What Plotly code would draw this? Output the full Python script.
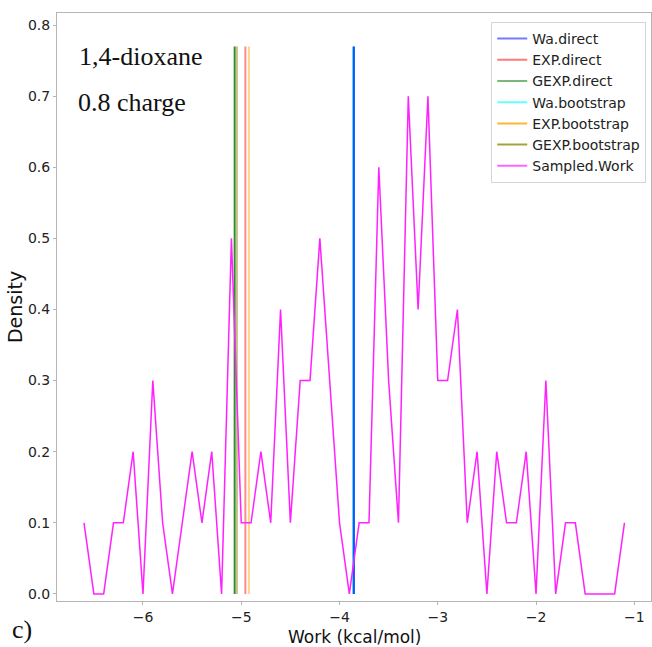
import plotly.graph_objects as go

# Sampled work histogram (density per 0.1 kcal/mol bin)
work_x = [-6.6, -6.5, -6.4, -6.3, -6.2, -6.1, -6.0, -5.9, -5.8, -5.7,
          -5.6, -5.5, -5.4, -5.3, -5.2, -5.1, -5.0, -4.9, -4.8, -4.7,
          -4.6, -4.5, -4.4, -4.3, -4.2, -4.1, -4.0, -3.9, -3.8, -3.7,
          -3.6, -3.5, -3.4, -3.3, -3.2, -3.1, -3.0, -2.9, -2.8, -2.7,
          -2.6, -2.5, -2.4, -2.3, -2.2, -2.1, -2.0, -1.9, -1.8, -1.7,
          -1.6, -1.5, -1.4, -1.3, -1.2, -1.1]
density = [0.1, 0.0, 0.0, 0.1, 0.1, 0.2, 0.0, 0.3, 0.1, 0.0,
           0.1, 0.2, 0.1, 0.2, 0.0, 0.5, 0.1, 0.1, 0.2, 0.1,
           0.4, 0.1, 0.3, 0.3, 0.5, 0.3, 0.1, 0.0, 0.1, 0.1,
           0.6, 0.3, 0.1, 0.7, 0.4, 0.7, 0.3, 0.3, 0.4, 0.1,
           0.2, 0.0, 0.2, 0.1, 0.1, 0.2, 0.0, 0.3, 0.0, 0.1,
           0.1, 0.0, 0.0, 0.0, 0.0, 0.1]

# Estimator results (vertical lines)
est_names = ["Wa.direct", "EXP.direct", "GEXP.direct",
             "Wa.bootstrap", "EXP.bootstrap", "GEXP.bootstrap"]
est_values = [-3.853, -4.958, -5.067, -3.862, -4.922, -5.044]
line_top = 0.77
line_colors = ["#1f4fff", "#ff8a8a", "#2e8f2e", "#3fe6ff", "#ffd48a", "#c8c088"]
legend_colors = ["#7878ff", "#ff7a7a", "#78b878", "#66ffff", "#ffb733", "#a3a33d"]
draw_order = [3, 0, 1, 4, 5, 2]

sampled_name = "Sampled.Work"
sampled_color = "#ff22ff"

x_title = "Work (kcal/mol)"
y_title = "Density"
x_ticks = [-6, -5, -4, -3, -2, -1]
y_ticks = [0.0, 0.1, 0.2, 0.3, 0.4, 0.5, 0.6, 0.7, 0.8]

TOP, BOTTOM = 13, 46
PLOT_BOTTOM = 647 - BOTTOM
PLOT_H = 647 - TOP - BOTTOM

def py(pix):
    """paper y coordinate for a pixel row"""
    return (PLOT_BOTTOM - pix) / PLOT_H

fig = go.Figure()

# vertical lines (no legend)
for i in draw_order:
    fig.add_trace(go.Scatter(
        x=[est_values[i], est_values[i]], y=[0, line_top],
        mode="lines", line=dict(color=line_colors[i], width=2),
        showlegend=False, hoverinfo="skip"))

fig.add_trace(go.Scatter(
    x=work_x, y=density, mode="lines",
    line=dict(color=sampled_color, width=1.5), showlegend=False))

# legend entries
for name, col in zip(est_names, legend_colors):
    fig.add_trace(go.Scatter(x=[None], y=[None], mode="lines", name=name,
                             line=dict(color=col, width=2)))
fig.add_trace(go.Scatter(x=[None], y=[None], mode="lines", name=sampled_name,
                         line=dict(color="#ff66ff", width=2)))

axis_common = dict(showline=True, mirror=True, linecolor="#b5b5b5", linewidth=1,
                   ticks="outside", ticklen=3, tickcolor="#b5b5b5",
                   showgrid=False, zeroline=False,
                   tickfont=dict(family="DejaVu Sans", size=14, color="#222"))

fig.update_layout(
    width=652, height=647,
    margin=dict(l=57, r=1, t=TOP, b=BOTTOM),
    paper_bgcolor="white", plot_bgcolor="white",
    xaxis=dict(range=[-6.875, -0.83], tickvals=x_ticks, **axis_common),
    yaxis=dict(range=[-0.010, 0.817], tickvals=y_ticks, tickformat=".1f",
               title=dict(text=y_title, standoff=0,
                          font=dict(family="DejaVu Sans", size=19, color="#111")),
               **axis_common),
    legend=dict(x=0.992, xanchor="right", y=py(22), yanchor="top",
                bgcolor="white", bordercolor="#d6d6d6", borderwidth=1,
                font=dict(family="DejaVu Sans", size=14, color="#222"),
                tracegroupgap=0),
    showlegend=True,
)

# x-axis title placed explicitly below the tick labels
fig.add_annotation(text=x_title, xref="paper", yref="paper",
                   x=0.5, y=py(625), xanchor="center", yanchor="top",
                   showarrow=False,
                   font=dict(family="DejaVu Sans", size=17, color="#111"))

fig.add_annotation(text="1,4-dioxane", xref="paper", yref="paper",
                   x=(77 - 57) / 594, y=py(57), xanchor="left", yanchor="middle",
                   showarrow=False,
                   font=dict(family="Liberation Serif", size=26, color="#111"))
fig.add_annotation(text="0.8 charge", xref="paper", yref="paper",
                   x=(76 - 57) / 594, y=py(103), xanchor="left", yanchor="middle",
                   showarrow=False,
                   font=dict(family="Liberation Serif", size=26, color="#111"))
fig.add_annotation(text="c)", xref="paper", yref="paper",
                   x=(10 - 57) / 594, y=py(630), xanchor="left", yanchor="middle",
                   showarrow=False,
                   font=dict(family="Liberation Serif", size=26, color="#111"))

fig.write_html("out.html")
